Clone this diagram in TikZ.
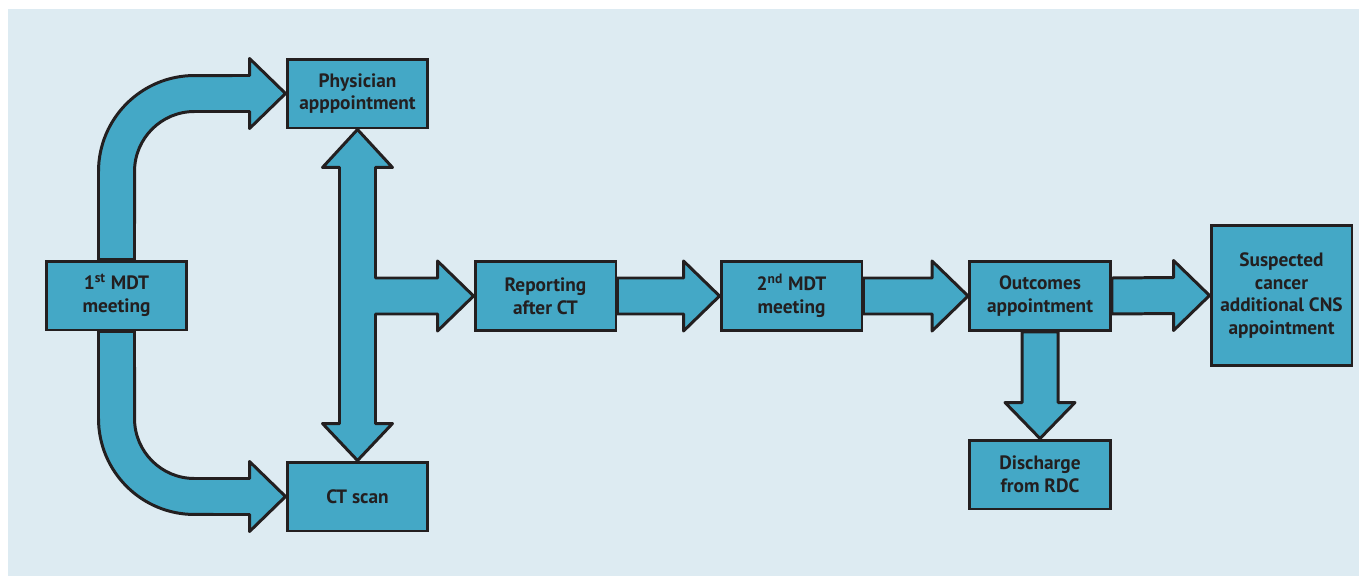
\documentclass[tikz,border=0pt]{standalone}
\usepackage{fontspec}
\setmainfont{PT Sans}
\usetikzlibrary{calc,backgrounds}
\definecolor{panel}{HTML}{DDEBF2}
\definecolor{teal}{HTML}{44A8C6}
\definecolor{ink}{HTML}{231F20}
\begin{document}
\begin{tikzpicture}[x=0.02cm, y=0.02cm]
        \tikzstyle{box} = [rectangle, draw=ink, fill=teal, line width=1.7pt, text=ink, align=center,
                minimum width=2.82cm, minimum height=1.38cm, inner sep=2pt,
                font=\fontsize{11}{13}\selectfont\bfseries]
        \tikzstyle{fat} = [draw=ink, fill=teal, line width=1.7pt, line join=round]
        \useasboundingbox (0,0) rectangle (1359,576);

        \node[box] (mdt1) at (116.5,280.5) {1\textsuperscript{st} MDT\\meeting};
        \node[box] (phys) at (357.5,482.5) {Physician\\apppointment};
        \node[box] (ct)   at (357.5,79.5)  {CT scan};
        \node[box] (rep)  at (545.5,280)   {Reporting\\after CT};
        \node[box] (mdt2) at (791.5,280)   {2\textsuperscript{nd} MDT\\meeting};
        \node[box] (outc) at (1040,280)    {Outcomes\\appointment};
        \node[box] (disc) at (1040,101.5)  {Discharge\\from RDC};
        \node[box, minimum height=2.8cm] (susp) at (1281.5,280.5) {Suspected\\cancer\\additional CNS\\appointment};

        \begin{pgfonlayer}{background}
        \fill[panel] (8,0) rectangle (1359,567);
        % curved arrows out of the first meeting
        \draw[fat] ($(mdt1.north)+(-18,0)$) -- ($(mdt1.north |- phys.west)+(-18,-78)$)
                arc[start angle=180, end angle=90, radius=1.92cm]
                -- ($(phys.west)+(-36,18)$) -- ($(phys.west)+(-36,35)$) -- (phys.west)
                -- ($(phys.west)+(-36,-35)$) -- ($(phys.west)+(-36,-18)$)
                -- ($(mdt1.north |- phys.west)+(78,-18)$)
                arc[start angle=90, end angle=180, radius=1.2cm]
                -- ($(mdt1.north)+(18,0)$) -- cycle;
        \draw[fat] ($(mdt1.south)+(-18,0)$) -- ($(mdt1.south |- ct.west)+(-18,78)$)
                arc[start angle=180, end angle=270, radius=1.92cm]
                -- ($(ct.west)+(-36,-18)$) -- ($(ct.west)+(-36,-35)$) -- (ct.west)
                -- ($(ct.west)+(-36,35)$) -- ($(ct.west)+(-36,18)$)
                -- ($(mdt1.south |- ct.west)+(78,18)$)
                arc[start angle=270, end angle=180, radius=1.2cm]
                -- ($(mdt1.south)+(18,0)$) -- cycle;
        % double arrow with branch to reporting
        \draw[fat] (phys.south) -- ($(phys.south)+(35,-38)$) -- ($(phys.south)+(18,-38)$)
                -- ($(phys.south |- rep.west)+(18,18)$) -- ($(rep.west)+(-36,18)$)
                -- ($(rep.west)+(-36,35)$) -- (rep.west) -- ($(rep.west)+(-36,-35)$)
                -- ($(rep.west)+(-36,-18)$) -- ($(phys.south |- rep.west)+(18,-18)$)
                -- ($(ct.north)+(18,37)$) -- ($(ct.north)+(35,37)$) -- (ct.north)
                -- ($(ct.north)+(-35,37)$) -- ($(ct.north)+(-18,37)$)
                -- ($(phys.south)+(-18,-38)$) -- ($(phys.south)+(-35,-38)$) -- cycle;
        \foreach \a/\b in {rep/mdt2, mdt2/outc, outc/susp}
                \draw[fat] ($(\a.east)+(0,18)$) -- ($(\b.west)+(-36,18)$) -- ($(\b.west)+(-36,35)$)
                        -- (\b.west) -- ($(\b.west)+(-36,-35)$) -- ($(\b.west)+(-36,-18)$)
                        -- ($(\a.east)+(0,-18)$) -- cycle;
        \draw[fat] ($(outc.south)+(-18,0)$) -- ($(disc.north)+(-18,36)$) -- ($(disc.north)+(-35,36)$)
                -- (disc.north) -- ($(disc.north)+(35,36)$) -- ($(disc.north)+(18,36)$)
                -- ($(outc.south)+(18,0)$) -- cycle;
        \end{pgfonlayer}
\end{tikzpicture}
\end{document}
